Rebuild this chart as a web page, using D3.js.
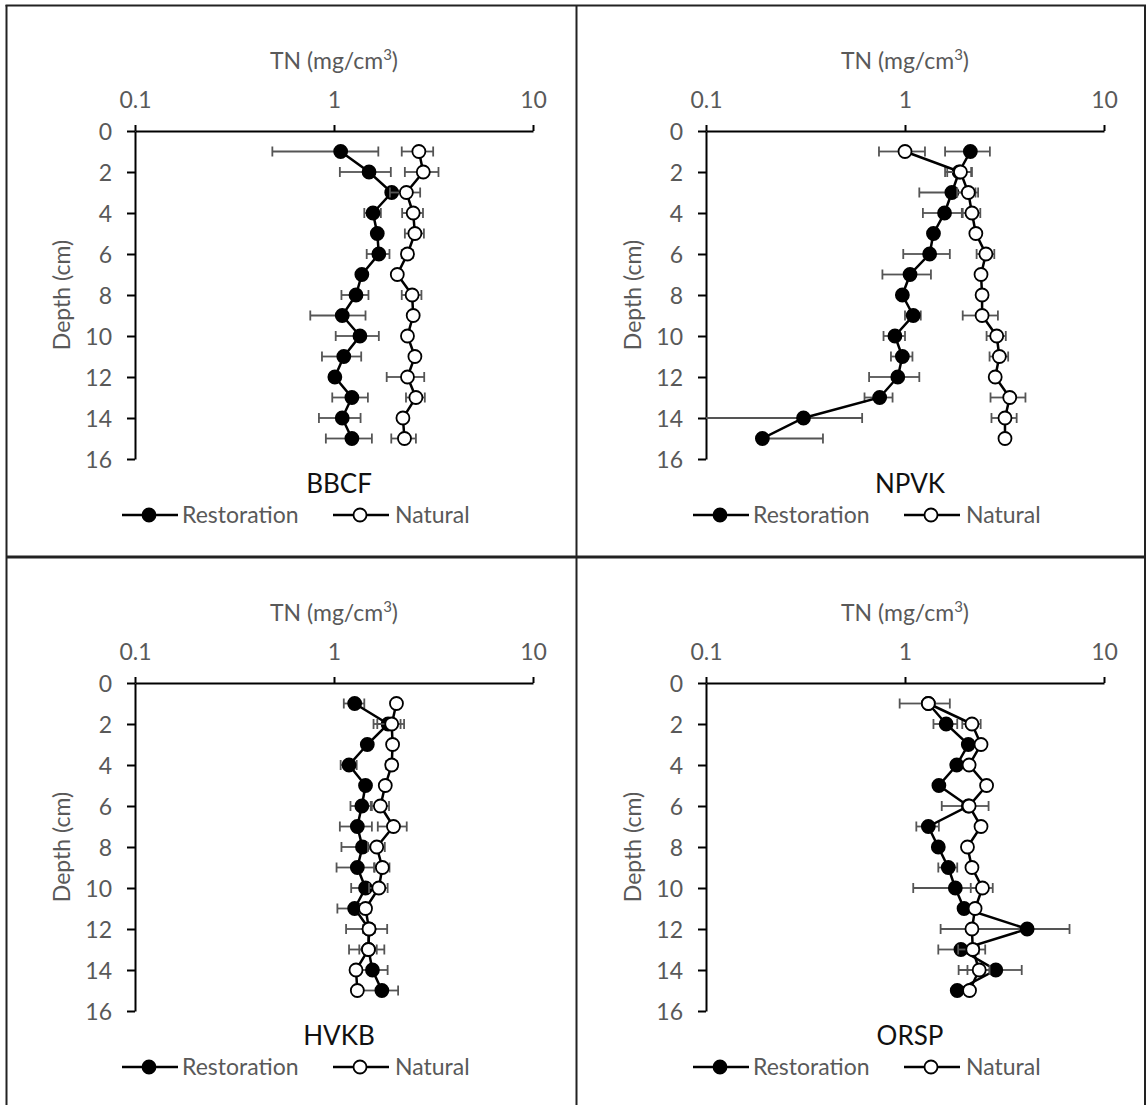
<!DOCTYPE html>
<html><head><meta charset="utf-8">
<script src="https://cdn.jsdelivr.net/npm/d3@7"></script>
<style>
html,body{margin:0;padding:0;background:#fff;}
svg{display:block;font-family:Lato,"Open Sans",sans-serif;}
</style></head>
<body><svg id="c" width="1147" height="1105"></svg>
<script>
// ---- data ----
const depths = [1,2,3,4,5,6,7,8,9,10,11,12,13,14,15];
const xTicks = [0.1, 1, 10];
const yTicks = [0,2,4,6,8,10,12,14,16];
const siteNames = ["BBCF","NPVK","HVKB","ORSP"];
const seriesNames = ["Restoration","Natural"];
const xTitleMain = "TN (mg/cm";
const xTitleSup = "3";
const xTitleEnd = ")";
const yTitle = "Depth (cm)";

const bbcfRest   = [1.08,1.50,1.95,1.57,1.65,1.68,1.38,1.29,1.10,1.35,1.12,1.01,1.23,1.10,1.23];
const bbcfRestSd = [0.59,0.43,0.08,0.15,0.06,0.22,0.05,0.20,0.34,0.33,0.25,0.05,0.25,0.26,0.32];
const bbcfNat    = [2.67,2.81,2.31,2.50,2.55,2.34,2.08,2.47,2.50,2.34,2.55,2.34,2.58,2.22,2.26];
const bbcfNatSd  = [0.48,0.54,0.40,0.30,0.28,0.15,0.05,0.28,0.08,0.08,0.08,0.50,0.28,0.06,0.32];

const npvkRest   = [2.13,1.87,1.72,1.58,1.39,1.33,1.06,0.97,1.10,0.89,0.97,0.92,0.746,0.309,0.192];
const npvkRestSd = [0.54,0.28,0.54,0.35,0.05,0.35,0.29,0.04,0.10,0.11,0.12,0.26,0.12,0.30,0.195];
const npvkNat    = [1.00,1.90,2.08,2.17,2.27,2.55,2.41,2.44,2.44,2.89,2.98,2.84,3.36,3.18,3.18];
const npvkNatSd  = [0.26,0.27,0.25,0.22,0.06,0.26,0.06,0.06,0.49,0.32,0.32,0.07,0.67,0.46,0.07];

const hvkbRest   = [1.27,1.87,1.47,1.19,1.44,1.38,1.31,1.39,1.31,1.44,1.27,1.50,1.49,1.56,1.74];
const hvkbRestSd = [0.15,0.29,0.06,0.11,0.05,0.17,0.24,0.30,0.28,0.22,0.23,0.35,0.30,0.30,0.36];
const hvkbNat    = [2.06,1.95,1.97,1.95,1.81,1.71,1.99,1.64,1.75,1.68,1.44,1.50,1.49,1.29,1.31];
const hvkbNatSd  = [0.05,0.30,0.05,0.12,0.05,0.18,0.33,0.16,0.15,0.18,0.09,0.10,0.15,0.05,0.05];

const orspRest   = [1.31,1.61,2.08,1.82,1.48,2.08,1.31,1.47,1.65,1.79,1.98,4.11,1.91,2.86,1.83];
const orspRestSd = [0.05,0.22,0.06,0.06,0.05,0.55,0.17,0.05,0.18,0.69,0.06,2.60,0.44,1.00,0.05];
const orspNat    = [1.31,2.17,2.41,2.10,2.57,2.10,2.41,2.06,2.17,2.45,2.25,2.17,2.19,2.36,2.11];
const orspNatSd  = [0.37,0.23,0.06,0.06,0.06,0.08,0.06,0.05,0.05,0.31,0.10,0.06,0.34,0.30,0.10];

// ---- build ----
const panels = [
  {name: siteNames[0], rest: bbcfRest, restSd: bbcfRestSd, nat: bbcfNat, natSd: bbcfNatSd, col: 0, row: 0},
  {name: siteNames[1], rest: npvkRest, restSd: npvkRestSd, nat: npvkNat, natSd: npvkNatSd, col: 1, row: 0},
  {name: siteNames[2], rest: hvkbRest, restSd: hvkbRestSd, nat: hvkbNat, natSd: hvkbNatSd, col: 0, row: 1},
  {name: siteNames[3], rest: orspRest, restSd: orspRestSd, nat: orspNat, natSd: orspNatSd, col: 1, row: 1}
];

const svg = d3.select("#c");
const GRAY = "#595959";
const FS = 23;
const PW = 571, PH = 552;

const x = d3.scaleLog().domain([0.1, 10]).range([135, 533]).clamp(true);
const y = d3.scaleLinear().domain([0, 16]).range([131, 459]);

panels.forEach(p => {
  const g = svg.append("g").attr("transform", `translate(${p.col*PW},${p.row*PH})`);

  // axes
  const ax = g.append("g").attr("transform", `translate(0,${y(0)})`)
    .call(d3.axisTop(x).tickValues(xTicks).tickFormat(d => String(d)).tickSize(6).tickSizeOuter(0));
  const ay = g.append("g").attr("transform", `translate(${x(0.1)},0)`)
    .call(d3.axisLeft(y).tickValues(yTicks).tickSize(8).tickSizeOuter(0));
  [ax, ay].forEach(a => {
    a.select(".domain").attr("stroke", "#000").attr("stroke-width", 2);
    a.selectAll(".tick line").attr("stroke", "#000").attr("stroke-width", 2);
    a.selectAll(".tick text").attr("fill", GRAY).attr("font-size", FS).attr("font-family", "Lato");
  });
  ax.selectAll(".tick text").attr("y", -23).attr("dy", 0);
  ay.selectAll(".tick text").attr("x", -23).attr("dy", "0.36em");

  const t = g.append("text").attr("x", 334).attr("y", 69).attr("text-anchor", "middle")
    .attr("fill", GRAY).attr("font-size", FS);
  t.append("tspan").text(xTitleMain);
  t.append("tspan").attr("font-size", 15).attr("dy", -9).text(xTitleSup);
  t.append("tspan").attr("dy", 9).text(xTitleEnd);
  g.append("text").attr("transform", `translate(70,${(y(0)+y(16))/2}) rotate(-90)`)
    .attr("text-anchor", "middle").attr("fill", GRAY).attr("font-size", FS).text(yTitle);
  g.append("text").attr("x", 339).attr("y", 493).attr("text-anchor", "middle")
    .attr("fill", "#111").attr("font-size", 26).text(p.name);

  const series = [
    {vals: p.rest, sd: p.restSd, fill: "#000"},
    {vals: p.nat, sd: p.natSd, fill: "#fff"}
  ];
  series.forEach(s => {
    const pts = depths.map((d, i) => ({depth: d, v: s.vals[i], sd: s.sd[i]}));
    const eg = g.append("g").attr("stroke", "#555").attr("stroke-width", 1.8);
    pts.forEach(d => {
      const lo = d.v - d.sd, hi = d.v + d.sd;
      const yy = y(d.depth);
      eg.append("line").attr("x1", x(d.v)).attr("x2", x(hi)).attr("y1", yy).attr("y2", yy);
      eg.append("line").attr("x1", x(hi)).attr("x2", x(hi)).attr("y1", yy-5).attr("y2", yy+5);
      if (lo > 0) {
        eg.append("line").attr("x1", x(lo)).attr("x2", x(d.v)).attr("y1", yy).attr("y2", yy);
        if (lo >= 0.1) eg.append("line").attr("x1", x(lo)).attr("x2", x(lo)).attr("y1", yy-5).attr("y2", yy+5);
      }
    });
    g.append("path").datum(pts)
      .attr("d", d3.line().x(d => x(d.v)).y(d => y(d.depth)))
      .attr("fill", "none").attr("stroke", "#000").attr("stroke-width", 2.5);
    g.selectAll(null).data(pts).enter().append("circle")
      .attr("cx", d => x(d.v)).attr("cy", d => y(d.depth)).attr("r", 6.5)
      .attr("fill", s.fill).attr("stroke", "#000").attr("stroke-width", 1.8);
  });

  // legend
  const leg = [{x0: 122, fill: "#000", tx: 182}, {x0: 333, fill: "#fff", tx: 395}];
  leg.forEach((l, i) => {
    g.append("line").attr("x1", l.x0).attr("x2", l.x0 + 56).attr("y1", 515).attr("y2", 515)
      .attr("stroke", "#000").attr("stroke-width", 2.5);
    g.append("circle").attr("cx", l.x0 + 27).attr("cy", 515).attr("r", 6.5)
      .attr("fill", l.fill).attr("stroke", "#000").attr("stroke-width", 1.8);
    g.append("text").attr("x", l.tx).attr("y", 523).attr("fill", GRAY).attr("font-size", FS)
      .text(seriesNames[i]);
  });
});

// frame
const fr = svg.append("g").attr("stroke", "#222").attr("fill", "none");
fr.append("line").attr("x1", 6.5).attr("x2", 6.5).attr("y1", 5).attr("y2", 1105).attr("stroke-width", 2);
fr.append("line").attr("x1", 1145).attr("x2", 1145).attr("y1", 5).attr("y2", 1105).attr("stroke-width", 2);
fr.append("line").attr("x1", 5.5).attr("x2", 1146).attr("y1", 5.5).attr("y2", 5.5).attr("stroke-width", 2);
fr.append("line").attr("x1", 576.5).attr("x2", 576.5).attr("y1", 5).attr("y2", 1105).attr("stroke-width", 2);
fr.append("line").attr("x1", 6).attr("x2", 1146).attr("y1", 557).attr("y2", 557).attr("stroke-width", 3);
</script></body></html>
